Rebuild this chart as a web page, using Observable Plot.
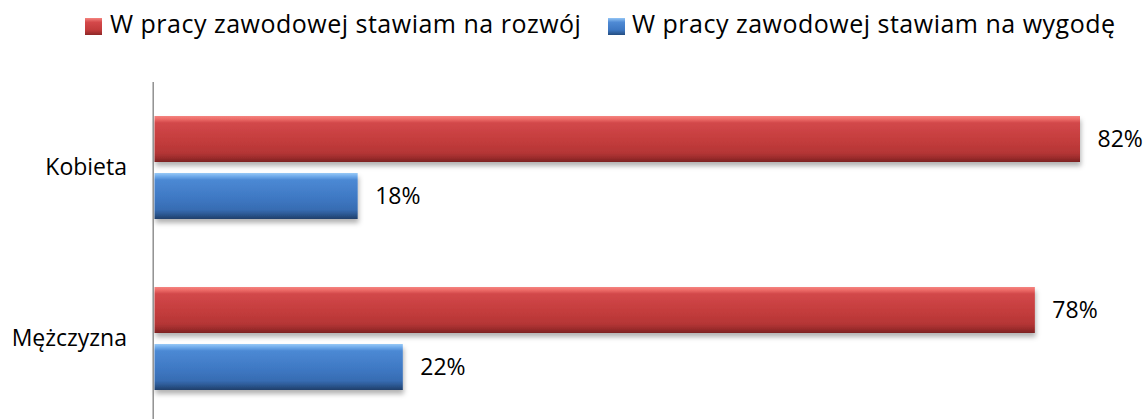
<!DOCTYPE html>
<html>
<head>
<meta charset="utf-8">
<script src="https://cdn.jsdelivr.net/npm/d3@7"></script>
<script src="https://cdn.jsdelivr.net/npm/@observablehq/plot@0.6"></script>
<style>
  html, body { margin: 0; padding: 0; background: #fff; }
  body { width: 1143px; height: 419px; overflow: hidden; font-family: "Open Sans", sans-serif; color: #000; }
  #legend { position: relative; height: 60px; }
  .sw { position: absolute; top: 18px; width: 17px; height: 17px; box-sizing: border-box; }
  .lt { position: absolute; top: 11px; font-size: 25px; line-height: 25px; letter-spacing: 0.5px; white-space: nowrap; }
</style>
</head>
<body>
<div id="legend"></div>
<div id="chart"></div>
<script>
// ---- data ----
const categories = ["Kobieta", "Mężczyzna"];
const series = ["W pracy zawodowej stawiam na rozwój", "W pracy zawodowej stawiam na wygodę"];
const rozwoj = [82, 78];   // %
const wygoda = [18, 22];   // %
const seriesFills = ["url(#gRed)", "url(#gBlue)"];
const swatchCss = [
  "linear-gradient(#f4847f 0%, #d4484a 25%, #c23b3b 70%, #8e2727 100%)",
  "linear-gradient(#93c5f5 0%, #4f8ad4 25%, #3d77c2 70%, #244d80 100%)"
];

const rows = [];
categories.forEach((c, i) => {
  rows.push({category: c, series: series[0], value: rozwoj[i]});
  rows.push({category: c, series: series[1], value: wygoda[i]});
});

// ---- legend ----
const legend = document.getElementById("legend");
const swX = [85, 608], txX = [110, 632];
series.forEach((s, i) => {
  const sw = document.createElement("div");
  sw.className = "sw"; sw.style.left = swX[i] + "px"; sw.style.background = swatchCss[i];
  const t = document.createElement("div");
  t.className = "lt"; t.style.left = txX[i] + "px"; t.textContent = s;
  legend.appendChild(sw); legend.appendChild(t);
});

// ---- chart ----
const plot = Plot.plot({
  width: 1143,
  height: 359,
  marginTop: 22,
  marginBottom: -5,
  marginLeft: 154.5,
  marginRight: 63,
  style: {fontFamily: "'Open Sans', sans-serif", fontSize: "23px", color: "#000", background: "transparent", overflow: "visible"},
  x: {domain: [0, 82], axis: null},
  y: {domain: series, axis: null, paddingInner: 0.193, paddingOuter: 0.596},
  fy: {domain: categories, padding: 0, axis: null},
  color: {domain: series, range: seriesFills},
  marks: [
    Plot.axisFy({anchor: "left", tickSize: 0, tickPadding: 28, label: null, fontSize: 23, fill: "#000"}),
    Plot.barX(rows, {x: "value", y: "series", fy: "category", fill: "series", className: "bars"}),
    Plot.text(rows, {x: "value", y: "series", fy: "category", text: d => d.value + "%", dx: 17, textAnchor: "start", fontSize: 23, fill: "#000"}),
    Plot.ruleX([0], {stroke: "#888888", strokeWidth: 1.4, dx: -1.8})
  ]
});

// gradients & shadow
const svg = d3.select(plot);
const defs = svg.insert("defs", ":first-child");
function grad(id, stops) {
  const g = defs.append("linearGradient").attr("id", id).attr("x1", 0).attr("y1", 0).attr("x2", 0).attr("y2", 1);
  stops.forEach(([o, c]) => g.append("stop").attr("offset", o).attr("stop-color", c));
}
grad("gRed", [[0, "#f4847f"], [0.07, "#ec6967"], [0.15, "#d2484a"], [0.55, "#c33c3c"], [0.8, "#b53636"], [0.9, "#9e2d2d"], [1, "#7c2121"]]);
grad("gBlue", [[0, "#98c9f6"], [0.07, "#70abeb"], [0.15, "#4c89d4"], [0.55, "#3e78c3"], [0.8, "#376cb2"], [0.9, "#2b5791"], [1, "#203f6a"]]);
const f = defs.append("filter").attr("id", "shadow").attr("x", "-5%").attr("y", "-20%").attr("width", "110%").attr("height", "160%");
f.append("feDropShadow").attr("dx", 1).attr("dy", 4).attr("stdDeviation", 2.5).attr("flood-color", "#000").attr("flood-opacity", 0.3);
svg.selectAll("g.bars").attr("filter", "url(#shadow)");

document.getElementById("chart").appendChild(plot);
</script>
</body>
</html>
